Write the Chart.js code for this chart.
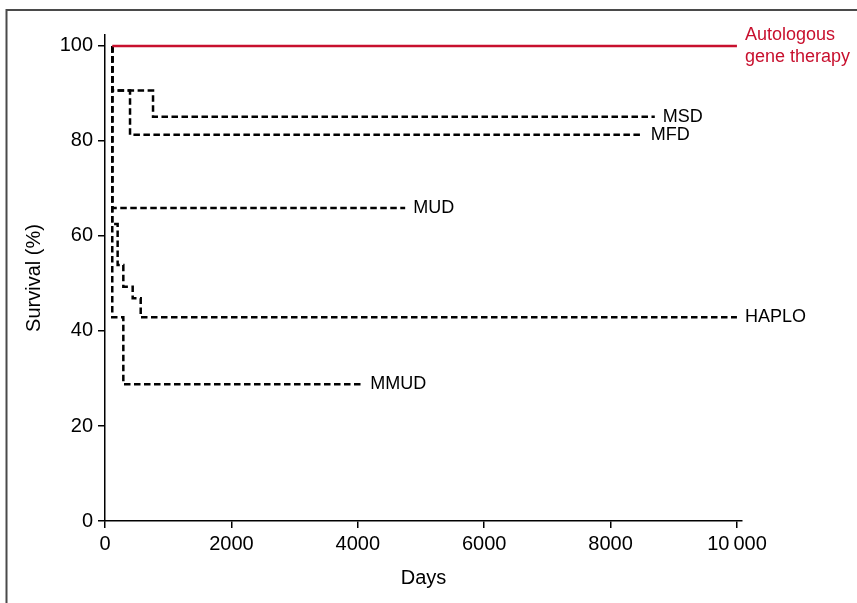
<!DOCTYPE html>
<html>
<head>
<meta charset="utf-8">
<script src="https://cdn.jsdelivr.net/npm/chart.js@4/dist/chart.umd.min.js"></script>
<style>
html,body{margin:0;padding:0;background:#fff;}
#wrap{width:857px;height:603px;position:relative;}
</style>
</head>
<body>
<div id="wrap"><canvas id="c" width="857" height="603"></canvas></div>
<script>
// ---- data ----
const xTicks = [0, 2000, 4000, 6000, 8000, 10000];
const yTicks = [0, 20, 40, 60, 80, 100];

const autoDays  = [115, 10000];
const autoSurv  = [100, 100];

const msdDays   = [115, 115, 760, 8700];
const msdSurv   = [100, 90.6, 85.1, 85.1];

const mfdDays   = [115, 115, 396, 8510];
const mfdSurv   = [100, 90.6, 81.3, 81.3];

const mudDays   = [115, 115, 4750];
const mudSurv   = [100, 65.9, 65.9];

const haploDays = [115, 115, 200, 290, 438, 565, 10000];
const haploSurv = [100, 62.5, 53.9, 49.3, 46.9, 42.9, 42.9];

const mmudDays  = [115, 115, 290, 4070];
const mmudSurv  = [100, 42.9, 28.8, 28.8];

const seriesNames = ['Autologous\ngene therapy', 'MSD', 'MFD', 'MUD', 'HAPLO', 'MMUD'];

// ---- build ----
const FONT = '"Liberation Sans", Arial, Helvetica, sans-serif';
Chart.defaults.font.family = FONT;
Chart.defaults.color = '#000';

const pts = (d, s) => d.map((v, i) => ({x: v, y: s[i]}));
const RED = '#c8102e';
const dashed = {borderColor: '#000', borderWidth: 2.5, borderDash: [6.5, 3.5]};

const raw = [
  [autoDays, autoSurv, {borderColor: RED, borderWidth: 2.5, borderDash: []}],
  [msdDays, msdSurv, dashed],
  [mfdDays, mfdSurv, dashed],
  [mudDays, mudSurv, dashed],
  [haploDays, haploSurv, dashed],
  [mmudDays, mmudSurv, dashed]
];

const datasets = raw.map((r, i) => Object.assign({
  label: seriesNames[i],
  data: pts(r[0], r[1]),
  stepped: true,
  pointRadius: 0,
  fill: false,
  clip: false,
  tension: 0
}, r[2]));

const labelPlugin = {
  id: 'endLabels',
  afterDatasetsDraw(chart) {
    const {ctx, scales: {x, y}} = chart;
    ctx.save();
    ctx.font = '18px ' + FONT;
    ctx.textBaseline = 'middle';
    ctx.textAlign = 'left';
    chart.data.datasets.forEach(ds => {
      const last = ds.data[ds.data.length - 1];
      const px = x.getPixelForValue(last.x) + 8;
      const py = y.getPixelForValue(last.y);
      const lines = ds.label.split('\n');
      ctx.fillStyle = ds.borderColor;
      lines.forEach((l, i) => ctx.fillText(l, px, py + (i - (lines.length - 1) / 2) * 22));
    });
    // partial frame (top and left edges)
    ctx.strokeStyle = '#4a4a4a';
    ctx.lineWidth = 2;
    ctx.beginPath();
    ctx.moveTo(6.5, 603);
    ctx.lineTo(6.5, 10);
    ctx.lineTo(857, 10);
    ctx.stroke();
    ctx.restore();
  }
};

new Chart(document.getElementById('c'), {
  type: 'line',
  data: {datasets},
  plugins: [labelPlugin],
  options: {
    responsive: false,
    animation: false,
    devicePixelRatio: 1,
    layout: {padding: {left: 0, right: 115, top: 35, bottom: 0}},
    plugins: {legend: {display: false}, tooltip: {enabled: false}},
    scales: {
      x: {
        type: 'linear',
        position: 'bottom',
        min: 0,
        max: 10080,
        afterBuildTicks: s => { s.ticks = xTicks.map(v => ({value: v})); },
        afterFit: s => { s.height = 82; },
        ticks: {
          autoSkip: false, maxRotation: 0, padding: 4,
          font: {size: 20}, color: '#000',
          callback: v => v >= 10000 ? String(v).replace(/(\d+)(\d{3})$/, '$1\u2009$2') : String(v)
        },
        grid: {display: true, drawOnChartArea: false, drawTicks: true, tickLength: 7, color: '#000', lineWidth: 1.5},
        border: {display: true, color: '#000', width: 1.5},
        title: {display: true, text: 'Days', font: {size: 20}, color: '#000', padding: {top: 0, bottom: 13}}
      },
      y: {
        type: 'linear',
        min: 0,
        max: 102.3,
        afterBuildTicks: s => { s.ticks = yTicks.map(v => ({value: v})); },
        afterFit: s => { s.width = 105; },
        ticks: {autoSkip: false, padding: 5, font: {size: 20}, color: '#000'},
        grid: {display: true, drawOnChartArea: false, drawTicks: true, tickLength: 7, color: '#000', lineWidth: 1.5},
        border: {display: true, color: '#000', width: 1.5},
        title: {display: true, text: 'Survival (%)', font: {size: 20}, color: '#000', padding: {top: 22, bottom: 0}}
      }
    }
  }
});
</script>
</body>
</html>
